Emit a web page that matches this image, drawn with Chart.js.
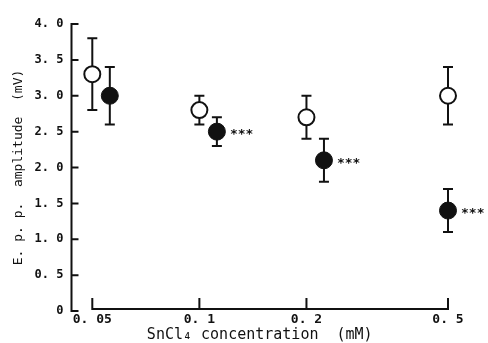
<!DOCTYPE html>
<html>
<head>
<meta charset="utf-8">
<script src="https://cdn.jsdelivr.net/npm/chart.js@4/dist/chart.umd.min.js"></script>
<style>
  html, body { margin: 0; padding: 0; background: #fff; }
  #wrap { width: 488px; height: 343px; }
</style>
</head>
<body>
<div id="wrap"><canvas id="chart"></canvas></div>
<script>
// SnCl4 concentration (mM); filled points sit a little to the right of the open ones
const controlX = [0.05, 0.1, 0.2, 0.5];
const controlMean = [3.3, 2.8, 2.7, 3.0];
const controlErr = [0.5, 0.2, 0.3, 0.4];

const sncl4X = [0.056, 0.112, 0.224, 0.5];
const sncl4Mean = [3.0, 2.5, 2.1, 1.4];
const sncl4Err = [0.4, 0.2, 0.3, 0.3];
const significance = ["", "***", "***", "***"];

const xTickValues = [0.05, 0.1, 0.2, 0.5];
const xTickLabels = ["0. 05", "0. 1", "0. 2", "0. 5"];
const yTickLabels = ["0", "0. 5", "1. 0", "1. 5", "2. 0", "2. 5", "3. 0", "3. 5", "4. 0"];

const INK = "#111";
const FONT = '"DejaVu Sans Mono", "Liberation Mono", monospace';

function toPoints(xs, ys) {
  return xs.map((x, i) => ({ x, y: ys[i] }));
}

// Axis lines, inward tick marks, error bars and significance stars.
const decorations = {
  id: "decorations",
  beforeDatasetsDraw(chart) {
    const { ctx, chartArea, scales: { x, y } } = chart;
    ctx.save();
    ctx.strokeStyle = INK;
    ctx.lineWidth = 2;
    ctx.lineCap = "butt";

    const left = chartArea.left;
    ctx.beginPath();
    ctx.moveTo(left, y.getPixelForValue(4) - 1);
    ctx.lineTo(left, y.getPixelForValue(0) + 1);
    y.ticks.forEach(t => {
      const py = y.getPixelForValue(t.value);
      ctx.moveTo(left - 1, py);
      ctx.lineTo(left + 7, py);
    });

    const base = y.getPixelForValue(0) - 2;
    ctx.moveTo(x.getPixelForValue(xTickValues[0]), base);
    ctx.lineTo(x.getPixelForValue(xTickValues[xTickValues.length - 1]), base);
    xTickValues.forEach(v => {
      const px = x.getPixelForValue(v);
      ctx.moveTo(px, base + 1);
      ctx.lineTo(px, base - 11);
    });
    ctx.stroke();

    const drawErr = (xs, means, errs) => {
      xs.forEach((xv, i) => {
        const px = x.getPixelForValue(xv);
        const top = y.getPixelForValue(means[i] + errs[i]);
        const bot = y.getPixelForValue(means[i] - errs[i]);
        ctx.beginPath();
        ctx.moveTo(px, top);
        ctx.lineTo(px, bot);
        ctx.moveTo(px - 5, top);
        ctx.lineTo(px + 5, top);
        ctx.moveTo(px - 5, bot);
        ctx.lineTo(px + 5, bot);
        ctx.stroke();
      });
    };
    drawErr(controlX, controlMean, controlErr);
    drawErr(sncl4X, sncl4Mean, sncl4Err);
    ctx.restore();
  },
  afterDatasetsDraw(chart) {
    const { ctx, scales: { x, y } } = chart;
    ctx.save();
    ctx.fillStyle = INK;
    ctx.font = "bold 13px " + FONT;
    ctx.textBaseline = "middle";
    ctx.textAlign = "left";
    sncl4X.forEach((xv, i) => {
      if (!significance[i]) return;
      ctx.fillText(significance[i], x.getPixelForValue(xv) + 13, y.getPixelForValue(sncl4Mean[i]) + 3);
    });
    ctx.restore();
  }
};

new Chart(document.getElementById("chart"), {
  type: "scatter",
  data: {
    datasets: [
      {
        label: "Control",
        data: toPoints(controlX, controlMean),
        pointRadius: 8,
        pointBorderWidth: 2,
        pointBorderColor: INK,
        pointBackgroundColor: "#fff",
        clip: false
      },
      {
        label: "SnCl4",
        data: toPoints(sncl4X, sncl4Mean),
        pointRadius: 8.5,
        pointBorderWidth: 1,
        pointBorderColor: INK,
        pointBackgroundColor: INK,
        clip: false
      }
    ]
  },
  options: {
    responsive: true,
    maintainAspectRatio: false,
    animation: false,
    events: [],
    layout: { padding: { top: 24, right: 40, bottom: 0, left: 3 } },
    plugins: { legend: { display: false }, tooltip: { enabled: false } },
    scales: {
      x: {
        type: "logarithmic",
        min: 0.0437,
        max: 0.5,
        grid: { display: false, drawTicks: false },
        border: { display: false },
        afterBuildTicks(scale) {
          scale.ticks = xTickValues.map(v => ({ value: v }));
        },
        ticks: {
          autoSkip: false,
          maxRotation: 0,
          padding: 2,
          color: INK,
          font: { family: FONT, size: 13, weight: "bold", lineHeight: 1 },
          callback: value => xTickLabels[xTickValues.indexOf(value)]
        },
        title: {
          display: true,
          text: "SnCl\u2084 concentration  (mM)",
          color: INK,
          font: { family: FONT, size: 15, lineHeight: 1 },
          padding: { top: 0, bottom: 0 }
        }
      },
      y: {
        min: 0,
        max: 4,
        grid: { display: false, drawTicks: false },
        border: { display: false },
        ticks: {
          stepSize: 0.5,
          padding: 8,
          color: INK,
          font: { family: FONT, size: 12, weight: "bold" },
          callback: value => yTickLabels[Math.round(value / 0.5)]
        },
        title: {
          display: true,
          text: "E. p. p.  amplitude  (mV)",
          color: INK,
          font: { family: FONT, size: 13 },
          padding: { top: 8, bottom: 0 }
        }
      }
    }
  },
  plugins: [decorations]
});
</script>
</body>
</html>
